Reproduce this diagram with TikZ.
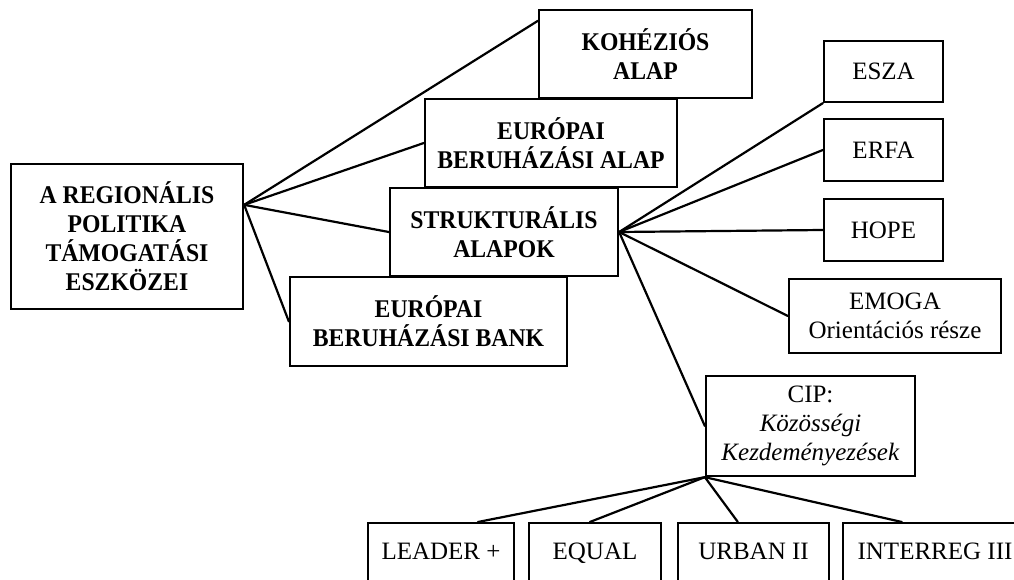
\documentclass[tikz,border=0pt]{standalone}
\usepackage{fontspec}
\setmainfont{Liberation Serif}
\newfontfamily\bcond{Liberation Serif}[FakeStretch=0.93]
\usetikzlibrary{calc}
\begin{document}
\begin{tikzpicture}[x=1pt,y=-1pt,
 box/.style={draw=black, line width=2.3pt, fill=white, inner sep=0pt, align=center, font=\fontsize{25}{29}\selectfont},
 bbox/.style={box, font=\bcond\fontsize{25.5}{29}\selectfont\bfseries},
 leaf/.style={box, anchor=north, text height=36pt, text depth=45pt},
 conn/.style={draw=black, line width=2.2pt, line cap=round}]
\useasboundingbox[fill=white] (0,0) rectangle (1014,580);
\clip (0,0) rectangle (1014,580);
% left group
\node[bbox, minimum width=232pt, minimum height=145pt] (main) at (127,236.5) {A REGIONÁLIS\\POLITIKA\\TÁMOGATÁSI\\ESZKÖZEI};
\node[bbox, minimum width=213pt, minimum height=88pt] (koh) at (645.5,54) {KOHÉZIÓS\\ALAP};
\node[bbox, minimum width=252pt, minimum height=88pt] (eba) at (551,143) {EURÓPAI\\BERUHÁZÁSI ALAP};
\node[bbox, minimum width=228pt, minimum height=88pt] (str) at (504,232) {STRUKTURÁLIS\\ALAPOK};
\node[bbox, minimum width=277pt, minimum height=89pt] (ebb) at (428.5,321.5) {EURÓPAI\\BERUHÁZÁSI BANK};
% right group
\node[box, minimum width=119pt, minimum height=61pt] (esza) at (883.5,71.5) {ESZA};
\node[box, minimum width=119pt, minimum height=62pt] (erfa) at (883.5,150) {ERFA};
\node[box, minimum width=119pt, minimum height=62pt] (hope) at (883.5,230) {HOPE};
\node[box, minimum width=212pt, minimum height=74pt] (emoga) at (895,316) {EMOGA\\Orientációs része};
\node[box, minimum width=209pt, minimum height=100pt] (cip) at (810.5,426) {CIP:\\\textit{Közösségi}\\\textit{Kezdeményezések}};
% bottom group
\node[leaf, minimum width=146pt] (leader) at (441,522) {LEADER +};
\node[leaf, minimum width=132pt] (equal) at (595,522) {EQUAL};
\node[leaf, minimum width=151pt] (urban) at (753.5,522) {URBAN II};
\node[leaf, minimum width=184pt] (interreg) at (935,522) {INTERREG III};
% connectors
\coordinate (mr) at ($(main.north east)+(0,42)$);
\coordinate (kohl) at ($(koh.north west)+(0,12)$);
\draw[conn] (mr) -- (kohl);
\draw[conn] (mr) -- (eba.west);
\draw[conn] (mr) -- (str.west);
\draw[conn] (mr) -- (ebb.west);
\draw[conn] (str.east) -- (esza.south west);
\draw[conn] (str.east) -- (erfa.west);
\draw[conn] (str.east) -- (hope.west);
\draw[conn] (str.east) -- (emoga.west);
\draw[conn] (str.east) -- (cip.west);
\draw[conn] (cip.south west) -- ($(leader.north west)+(111,0)$);
\draw[conn] (cip.south west) -- ($(equal.north west)+(62,0)$);
\draw[conn] (cip.south west) -- ($(urban.north west)+(61,0)$);
\draw[conn] (cip.south west) -- ($(interreg.north west)+(60,0)$);
\end{tikzpicture}
\end{document}
